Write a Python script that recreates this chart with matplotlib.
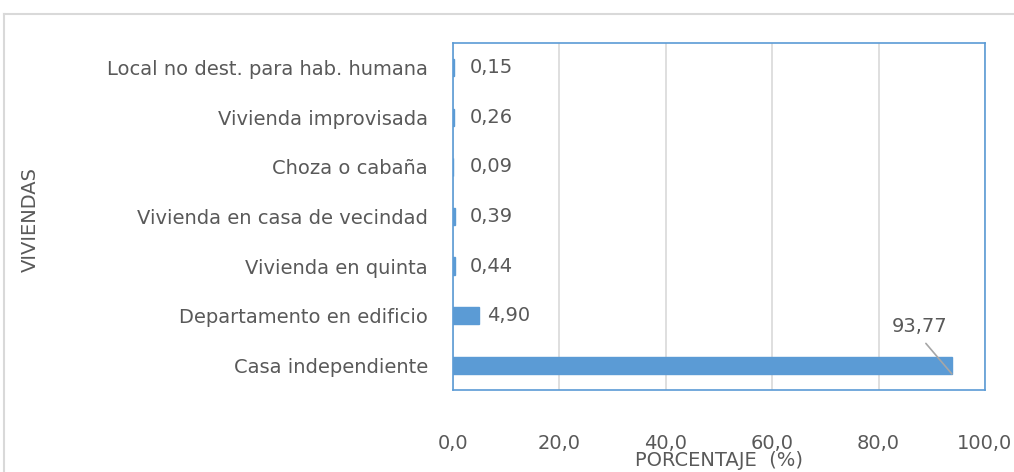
import matplotlib
matplotlib.use('Agg')
import matplotlib.pyplot as plt
from matplotlib.lines import Line2D

# data
categories = ['Casa independiente', 'Departamento en edificio', 'Vivienda en quinta',
              'Vivienda en casa de vecindad', 'Choza o cabaña', 'Vivienda improvisada',
              'Local no dest. para hab. humana']
values = [93.77, 4.90, 0.44, 0.39, 0.09, 0.26, 0.15]
value_labels = ['93,77', '4,90', '0,44', '0,39', '0,09', '0,26', '0,15']
xticks = [0, 20, 40, 60, 80, 100]
xtick_labels = ['0,0', '20,0', '40,0', '60,0', '80,0', '100,0']

BLUE = '#5B9BD5'
GREY_TXT = '#595959'
GRID = '#D9D9D9'
FS = 14
BAR_H = 0.35

plt.rcParams['font.family'] = ['DejaVu Sans']

fig = plt.figure(figsize=(10.14, 4.72), dpi=100)
ax = fig.add_axes([0.4467, 0.1737, 0.5247, 0.7352])

ypos = list(range(len(categories)))
ax.barh(ypos, values, height=BAR_H, color=BLUE, edgecolor=BLUE, linewidth=1, zorder=3)

ax.set_xlim(0, 100)
ax.set_ylim(-0.5, len(categories) - 0.5)
ax.set_xticks(xticks)
ax.set_xticklabels(xtick_labels)
ax.set_yticks(ypos)
ax.set_yticklabels(categories)
ax.tick_params(axis='x', length=0, pad=32, labelsize=FS, labelcolor=GREY_TXT)
ax.tick_params(axis='y', length=0, pad=18, labelsize=FS, labelcolor=GREY_TXT)
ax.grid(axis='x', color=GRID, linewidth=1.2, zorder=0)

for sp in ax.spines.values():
    sp.set_color(BLUE)
    sp.set_linewidth(1.2)
    sp.set_zorder(2)

# value labels
for i, (v, lab) in enumerate(zip(values, value_labels)):
    if v > 50:
        # label sits above the bar end with a grey leader line
        ax.annotate(lab, xy=(v, i - BAR_H / 2), xytext=(-23, 27), textcoords='offset points',
                    ha='center', va='bottom', fontsize=FS, color=GREY_TXT,
                    arrowprops=dict(arrowstyle='-', color='#A6A6A6', lw=1.2,
                                    relpos=(0.5, 0), shrinkA=4, shrinkB=0))
    else:
        ax.annotate(lab, xy=(max(v, 1.6), i), xytext=(6, 0), textcoords='offset points',
                    ha='left', va='center', fontsize=FS, color=GREY_TXT)

fig.text(719 / 1014, 1 - 461 / 472, 'PORCENTAJE  (%)', ha='center', va='center',
         fontsize=FS, color=GREY_TXT)
fig.text(0.030, 0.534, 'VIVIENDAS', rotation=90, ha='center', va='center',
         fontsize=FS, color=GREY_TXT)

# outer chart border (cropped on the right and bottom)
fig.add_artist(Line2D([4 / 1014, 1], [1 - 14 / 472, 1 - 14 / 472],
                      transform=fig.transFigure, color='#D9D9D9', lw=1.5))
fig.add_artist(Line2D([4 / 1014, 4 / 1014], [0, 1 - 14 / 472],
                      transform=fig.transFigure, color='#D9D9D9', lw=1.5))

fig.savefig('out.png', dpi=100)
